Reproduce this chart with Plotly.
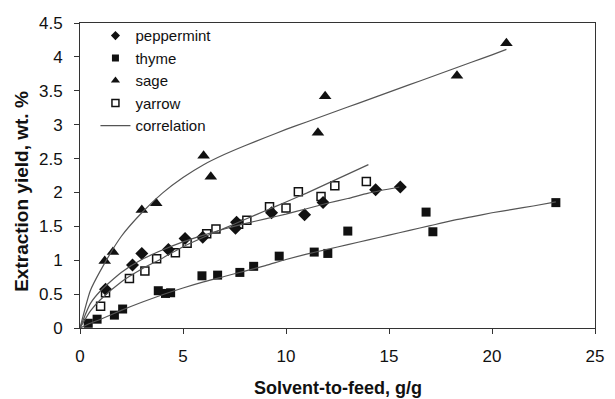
import plotly.graph_objects as go

# ---- measured data ----
pep_x = [1.24, 2.55, 3.0, 4.29, 5.1, 5.96, 7.55, 7.6, 9.3, 10.9, 11.8, 14.35, 15.55]
pep_y = [0.57, 0.93, 1.10, 1.16, 1.32, 1.34, 1.47, 1.56, 1.70, 1.67, 1.85, 2.04, 2.08]

thy_x = [0.4, 0.83, 1.67, 2.07, 3.8, 4.15, 4.4, 5.92, 6.68, 7.76, 8.43, 9.67, 11.37, 12.03, 13.0, 16.8, 17.13, 23.1]
thy_y = [0.07, 0.13, 0.19, 0.28, 0.55, 0.51, 0.52, 0.77, 0.78, 0.82, 0.91, 1.06, 1.12, 1.10, 1.43, 1.71, 1.42, 1.85]

sage_x = [1.2, 1.6, 3.0, 3.7, 6.0, 6.35, 11.55, 11.9, 18.3, 20.7]
sage_y = [0.99, 1.12, 1.74, 1.84, 2.54, 2.23, 2.88, 3.42, 3.72, 4.20]

yar_x = [1.0, 1.24, 2.4, 3.15, 3.72, 4.63, 5.2, 6.15, 6.6, 7.7, 8.1, 9.2, 10.0, 10.6, 11.7, 12.37, 13.9]
yar_y = [0.32, 0.52, 0.73, 0.84, 1.02, 1.11, 1.25, 1.39, 1.46, 1.53, 1.59, 1.79, 1.77, 2.01, 1.94, 2.10, 2.16]

# correlation curves
pep_cx = [0, 0.5, 1, 2, 3, 4, 5, 6, 7, 8, 9, 10, 11, 12, 13, 14, 15.5]
pep_cy = [0, 0.36, 0.55, 0.82, 1.01, 1.15, 1.27, 1.37, 1.46, 1.54, 1.61, 1.68, 1.76, 1.84, 1.91, 1.99, 2.08]

thy_cx = [0, 0.5, 1, 2, 3, 4, 5, 6, 7, 8, 9, 10, 11, 12, 13, 14, 15, 16, 17, 18, 19, 20, 21, 22, 23.1]
thy_cy = [0, 0.07, 0.13, 0.26, 0.38, 0.49, 0.59, 0.68, 0.76, 0.84, 0.92, 1.01, 1.09, 1.16, 1.23, 1.3, 1.37, 1.44, 1.51, 1.58, 1.64, 1.7, 1.75, 1.8, 1.86]

sage_cx = [0, 0.5, 1, 2, 3, 4, 5, 6, 7, 8, 9, 10, 11, 12, 13, 14, 15, 16, 17, 18, 19, 20, 20.7]
sage_cy = [0, 0.55, 0.85, 1.35, 1.7, 1.99, 2.22, 2.41, 2.56, 2.69, 2.81, 2.93, 3.04, 3.15, 3.26, 3.37, 3.48, 3.59, 3.70, 3.81, 3.92, 4.03, 4.11]

yar_cx = [0, 0.5, 1, 2, 3, 4, 5, 6, 7, 8, 9, 10, 11, 12, 13, 14]
yar_cy = [0, 0.25, 0.42, 0.68, 0.87, 1.03, 1.2, 1.34, 1.47, 1.6, 1.73, 1.86, 1.99, 2.13, 2.27, 2.41]

x_title = "Solvent-to-feed, g/g"
y_title = "Extraction yield, wt. %"
series_names = ["peppermint", "thyme", "sage", "yarrow", "correlation"]

FONT = "Liberation Sans, Arial, sans-serif"
MK = "#111111"
LINE = "#555555"

fig = go.Figure()

sym = [("diamond", 10, 7), ("square", 9, 7), ("triangle-up", 11, 8), ("square-open", 8, 7)]
data = [(pep_x, pep_y), (thy_x, thy_y), (sage_x, sage_y), (yar_x, yar_y)]
for (s, size, lsize), (xx, yy), name in zip(sym, data, series_names[:4]):
    mline = dict(width=1.5, color=MK) if s.endswith("open") else dict(width=0)
    fig.add_trace(go.Scatter(x=xx, y=yy, mode="markers", name=name, showlegend=False,
                             marker=dict(symbol=s, size=size, color=MK, line=mline)))
    # legend entry with the smaller legend symbol
    fig.add_trace(go.Scatter(x=[None], y=[None], mode="markers", name=name,
                             marker=dict(symbol=s, size=lsize, color=MK, line=mline)))

for i, (cx, cy) in enumerate([(pep_cx, pep_cy), (thy_cx, thy_cy), (sage_cx, sage_cy), (yar_cx, yar_cy)]):
    fig.add_trace(go.Scatter(x=cx, y=cy, mode="lines", name=series_names[4],
                             line=dict(color=LINE, width=1.2, shape="spline", smoothing=0.6),
                             showlegend=(i == 0)))

axis_common = dict(showline=True, linecolor="#333333", linewidth=1, mirror=True,
                   ticks="outside", ticklen=5, tickcolor="#333333",
                   showgrid=False, zeroline=False,
                   tickfont=dict(family=FONT, size=17, color="#111111"))

fig.update_xaxes(range=[0, 25], dtick=5, tick0=0, ticklabelstandoff=8, **axis_common)
fig.update_yaxes(range=[0, 4.5], dtick=0.5, tick0=0, ticklabelstandoff=8, **axis_common)

fig.update_layout(
    width=615, height=399,
    margin=dict(l=80, r=11, t=23, b=71),
    paper_bgcolor="white", plot_bgcolor="white",
    showlegend=True,
    legend=dict(x=0.03, y=1.012, xanchor="left", yanchor="top",
                bgcolor="rgba(0,0,0,0)", borderwidth=0,
                font=dict(family=FONT, size=15, color="#111111"),
                traceorder="normal"),
    annotations=[
        dict(text="<b>" + x_title + "</b>", xref="paper", yref="paper",
             x=0.5, y=-0.197, xanchor="center", yanchor="middle", showarrow=False,
             font=dict(family=FONT, size=18, color="#111111")),
        dict(text="<b>" + y_title + "</b>", xref="paper", yref="paper",
             x=-0.115, y=0.449, xanchor="center", yanchor="middle", showarrow=False,
             textangle=-90, font=dict(family=FONT, size=19, color="#111111")),
    ],
)

fig.write_html("out.html")
